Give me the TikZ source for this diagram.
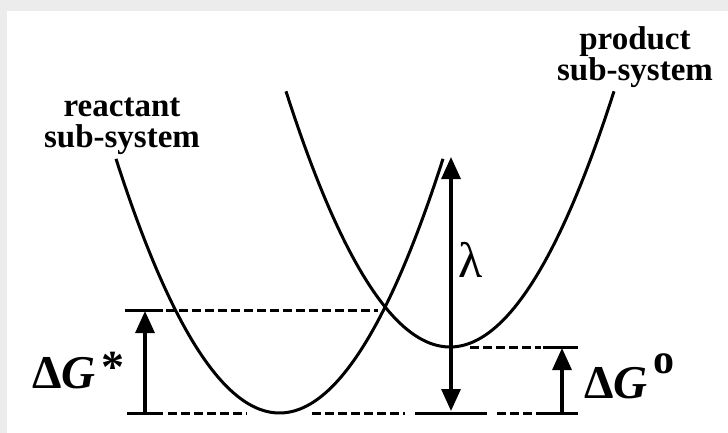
\documentclass[tikz,border=0pt]{standalone}
\usepackage{fontspec}
\setmainfont{Liberation Serif}
\usetikzlibrary{arrows.meta}
\tikzset{
  well/.style={line width=3pt},
  lvl/.style={line width=3pt,dash pattern=on 8.5pt off 4.5pt},
  bar/.style={line width=3pt},
  arr/.style={line width=3.2pt,-{Triangle[length=22pt,width=19pt]}},
  dbl/.style={line width=3.2pt,{Triangle[length=22pt,width=19pt]}-{Triangle[length=22pt,width=19pt]}},
  lbl/.style={align=center,font=\bfseries\fontsize{33}{31}\selectfont,inner sep=0pt},
  sym/.style={font=\bfseries\fontsize{47}{50}\selectfont,inner sep=0pt}
}

\begin{document}
\begin{tikzpicture}[x=1pt,y=-1pt]
\fill[gray!15] (0,0) rectangle (728,433);
\fill[white] (7,11) rectangle (728,433);
\useasboundingbox (0,0) rectangle (728,433);
% free energy wells
\draw[well] plot[domain=116:443,samples=90] (\x,{413-(0.0975*(\x-279.5))^2});
\draw[well] plot[domain=286:614,samples=90] (\x,{347-(0.0975*(\x-450))^2});
% levels
\foreach \a/\b/\y in {125/163/310,127/163/413,415/487/413,543/578/413,543/578/347}
  \draw[bar] (\a,\y) -- (\b,\y);
\foreach \a/\b/\y in {166/378/310,168/247/413,312/405/413,497/543/413,470/541/347}
  \draw[lvl] (\a,\y) -- (\b,\y);
% labels
\node[lbl] (react) at (122,126) {reactant\\sub-system};
\node[lbl] (prod) at (635,57) {product\\sub-system};
\node[sym,anchor=base west] (dgs) at (32,388)
  {Δ\textit{G}\hspace{6pt}\raisebox{6pt}{\fontsize{46}{46}\selectfont*}};
\node[sym,anchor=base west] (dgo) at (584,398)
  {Δ\textit{G}\hspace{6pt}\raisebox{25pt}{\fontsize{42}{42}\selectfont o}};
\node[font=\fontsize{50}{50}\selectfont,inner sep=0pt,anchor=base west] (lam) at (458,277) {λ};
% arrows
\coordinate (gsb) at (145,413);
\coordinate (gst) at (145,311);
\coordinate (lb) at (451,411);
\coordinate (lt) at (451,157);
\coordinate (gob) at (562,413);
\coordinate (got) at (562,348);
\draw[arr] (gsb) -- (gst);
\draw[dbl] (lb) -- (lt);
\draw[arr] (gob) -- (got);
\end{tikzpicture}
\end{document}
